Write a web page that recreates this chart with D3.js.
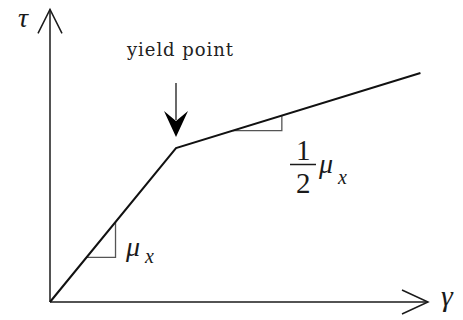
<!DOCTYPE html>
<html>
<head>
<meta charset="utf-8">
<script src="https://cdn.jsdelivr.net/npm/d3@7"></script>
<style>
  html, body { margin: 0; padding: 0; background: #fff; }
  svg { display: block; }
</style>
</head>
<body>
<script>
// ---- data ----
const gamma = [0, 1, 2.94];          // shear strain (arbitrary units)
const tau = [0, 1, 1.487];           // shear stress (arbitrary units)
const yieldIndex = 1;                // index of the yield point
const slopeTriangles = [[0.29, 0.52], [1.45, 1.84]]; // gamma spans of slope markers
const axisMax = { gamma: 3, tau: 1.9 };
const labels = { x: "γ", y: "τ", yieldText: "yield point" };

// ---- setup ----
const W = 463, H = 320;
const svg = d3.select("body").append("svg").attr("width", W).attr("height", H);

const x = d3.scaleLinear().domain([0, axisMax.gamma]).range([50, 428]);
const y = d3.scaleLinear().domain([0, axisMax.tau]).range([302, 9.4]);

const pts = gamma.map((g, i) => [g, tau[i]]);
const tauAt = g => {
  for (let i = 1; i < pts.length; i++) {
    if (g <= pts[i][0]) {
      const [g0, t0] = pts[i - 1], [g1, t1] = pts[i];
      return t0 + (t1 - t0) * (g - g0) / (g1 - g0);
    }
  }
  return pts[pts.length - 1][1];
};

const ink = "#1a1a1a";
const SERIF = "'Liberation Serif', 'Times New Roman', 'DejaVu Serif', serif";

const txt = (px, py, size, s, opts = {}) =>
  svg.append("text").attr("x", px).attr("y", py)
    .style("font-family", opts.family || SERIF)
    .style("font-style", opts.italic ? "italic" : "normal")
    .style("font-size", size + "px")
    .style("fill", opts.fill || ink)
    .attr("text-anchor", opts.anchor || "start")
    .text(s);

// axes
const x0 = x(0), y0 = y(0), xEnd = x(axisMax.gamma), yEnd = y(axisMax.tau);
svg.append("line").attr("x1", x0).attr("y1", y0).attr("x2", xEnd).attr("y2", y0)
  .attr("stroke", ink).attr("stroke-width", 1.5);
svg.append("line").attr("x1", x0).attr("y1", y0).attr("x2", x0).attr("y2", yEnd)
  .attr("stroke", ink).attr("stroke-width", 1.5);
svg.append("path").attr("d", `M${xEnd - 26},${y0 - 12}L${xEnd},${y0}L${xEnd - 26},${y0 + 12}`)
  .attr("fill", "none").attr("stroke", ink).attr("stroke-width", 1.5);
svg.append("path").attr("d", `M${x0 - 12},${yEnd + 24}L${x0},${yEnd}L${x0 + 12},${yEnd + 24}`)
  .attr("fill", "none").attr("stroke", ink).attr("stroke-width", 1.5);

// axis labels
txt(x0 - 27, yEnd + 18, 28, labels.y, { italic: true, anchor: "middle" });
txt(xEnd + 19, y0 + 4, 30, labels.x, { italic: true, anchor: "middle" });

// slope triangles
slopeTriangles.forEach(([g0, g1]) => {
  const ax = x(g0), ay = y(tauAt(g0)), bx = x(g1), by = y(tauAt(g1));
  svg.append("path").attr("d", `M${ax},${ay}L${bx},${ay}L${bx},${by}`)
    .attr("fill", "none").attr("stroke", "#555").attr("stroke-width", 1.3);
});

// curve
svg.append("path").datum(pts)
  .attr("d", d3.line().x(d => x(d[0])).y(d => y(d[1])))
  .attr("fill", "none").attr("stroke", "#111").attr("stroke-width", 2)
  .attr("stroke-linejoin", "miter");

// yield point arrow
const yx = x(gamma[yieldIndex]), yy = y(tau[yieldIndex]);
svg.append("line").attr("x1", yx).attr("y1", yy - 65).attr("x2", yx).attr("y2", yy - 28)
  .attr("stroke", ink).attr("stroke-width", 1.3);
svg.append("path")
  .attr("d", `M${yx},${yy - 11}L${yx - 12},${yy - 37}L${yx},${yy - 27}L${yx + 12},${yy - 37}Z`)
  .attr("fill", "#000");
txt(yx + 4, 56, 18, labels.yieldText, { family: "'DejaVu Serif', serif", fill: "#222", anchor: "middle" })
  .attr("textLength", 106).attr("lengthAdjust", "spacing");

// lower: mu_x
txt(126, 256, 28, "μ", { italic: true });
txt(145, 263, 20, "x", { italic: true });

// upper: 1/2 mu_x
txt(296, 160, 29, "1");
svg.append("line").attr("x1", 290).attr("x2", 316).attr("y1", 164.5).attr("y2", 164.5)
  .attr("stroke", ink).attr("stroke-width", 1.5);
txt(296, 193, 29, "2");
txt(319, 173, 28, "μ", { italic: true });
txt(338, 184, 20, "x", { italic: true });
</script>
</body>
</html>
